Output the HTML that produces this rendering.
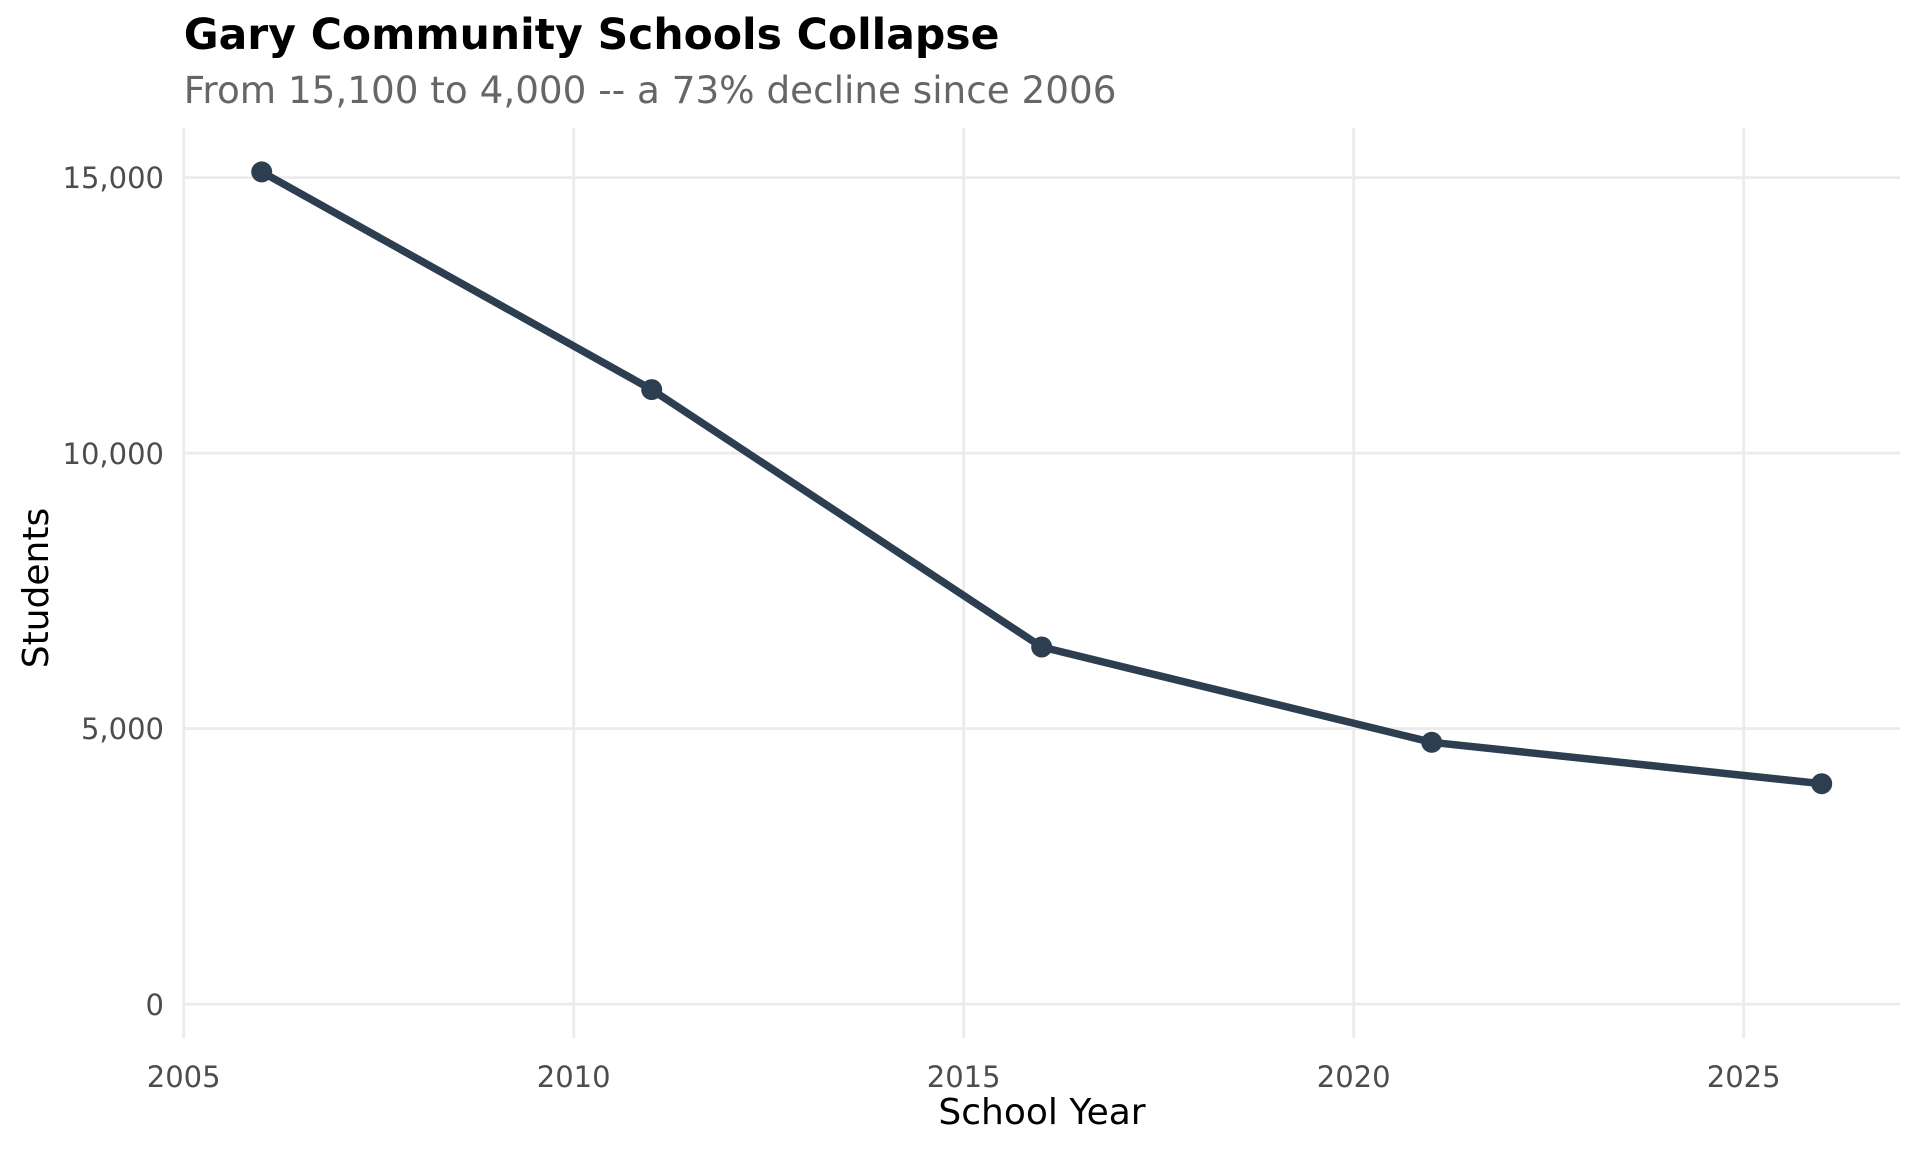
<!DOCTYPE html>
<html><head><meta charset="utf-8"><style>
html,body{margin:0;padding:0;background:#fff;}
svg{display:block;font-family:"DejaVu Sans","Liberation Sans",sans-serif;}
</style></head><body>
<svg width="1920" height="1152" viewBox="0 0 1920 1152" xmlns="http://www.w3.org/2000/svg">
<rect width="1920" height="1152" fill="#fff"/>
<g stroke="#ebebeb" stroke-width="2.8">
<line x1="183.7" y1="128" x2="183.7" y2="1038"/>
<line x1="573.7" y1="128" x2="573.7" y2="1038"/>
<line x1="963.7" y1="128" x2="963.7" y2="1038"/>
<line x1="1353.7" y1="128" x2="1353.7" y2="1038"/>
<line x1="1743.7" y1="128" x2="1743.7" y2="1038"/>
<line x1="183.7" y1="177.6" x2="1900" y2="177.6"/>
<line x1="183.7" y1="453.1" x2="1900" y2="453.1"/>
<line x1="183.7" y1="728.6" x2="1900" y2="728.6"/>
<line x1="183.7" y1="1004.1" x2="1900" y2="1004.1"/>
</g>
<polyline points="261.7,171.9 651.7,389.6 1041.7,647 1431.7,742.3 1821.7,783.7" fill="none" stroke="#2c3e50" stroke-width="7.5" stroke-linejoin="round"/>
<g fill="#2c3e50">
<circle cx="261.7" cy="171.9" r="10.5"/><circle cx="651.7" cy="389.6" r="10.5"/><circle cx="1041.7" cy="647" r="10.5"/><circle cx="1431.7" cy="742.3" r="10.5"/><circle cx="1821.7" cy="783.7" r="10.5"/>
</g>
<g font-size="29" fill="#4d4d4d" text-anchor="end">
<text x="164" y="188">15,000</text>
<text x="164" y="464">10,000</text>
<text x="164" y="739">5,000</text>
<text x="164" y="1015">0</text>
</g>
<g font-size="29" fill="#4d4d4d" text-anchor="middle">
<text x="183.7" y="1087">2005</text>
<text x="573.7" y="1087">2010</text>
<text x="963.7" y="1087">2015</text>
<text x="1353.7" y="1087">2020</text>
<text x="1743.7" y="1087">2025</text>
</g>
<text x="1042" y="1124" font-size="36" text-anchor="middle" fill="#000">School Year</text>
<text transform="translate(48,588) rotate(-90)" font-size="36" text-anchor="middle" fill="#000">Students</text>
<text x="183.7" y="49" font-size="42.5" font-weight="bold" fill="#000">Gary Community Schools Collapse</text>
<text x="183.7" y="103" font-size="37.3" fill="#666">From 15,100 to 4,000 -- a 73% decline since 2006</text>
</svg>
</body></html>
